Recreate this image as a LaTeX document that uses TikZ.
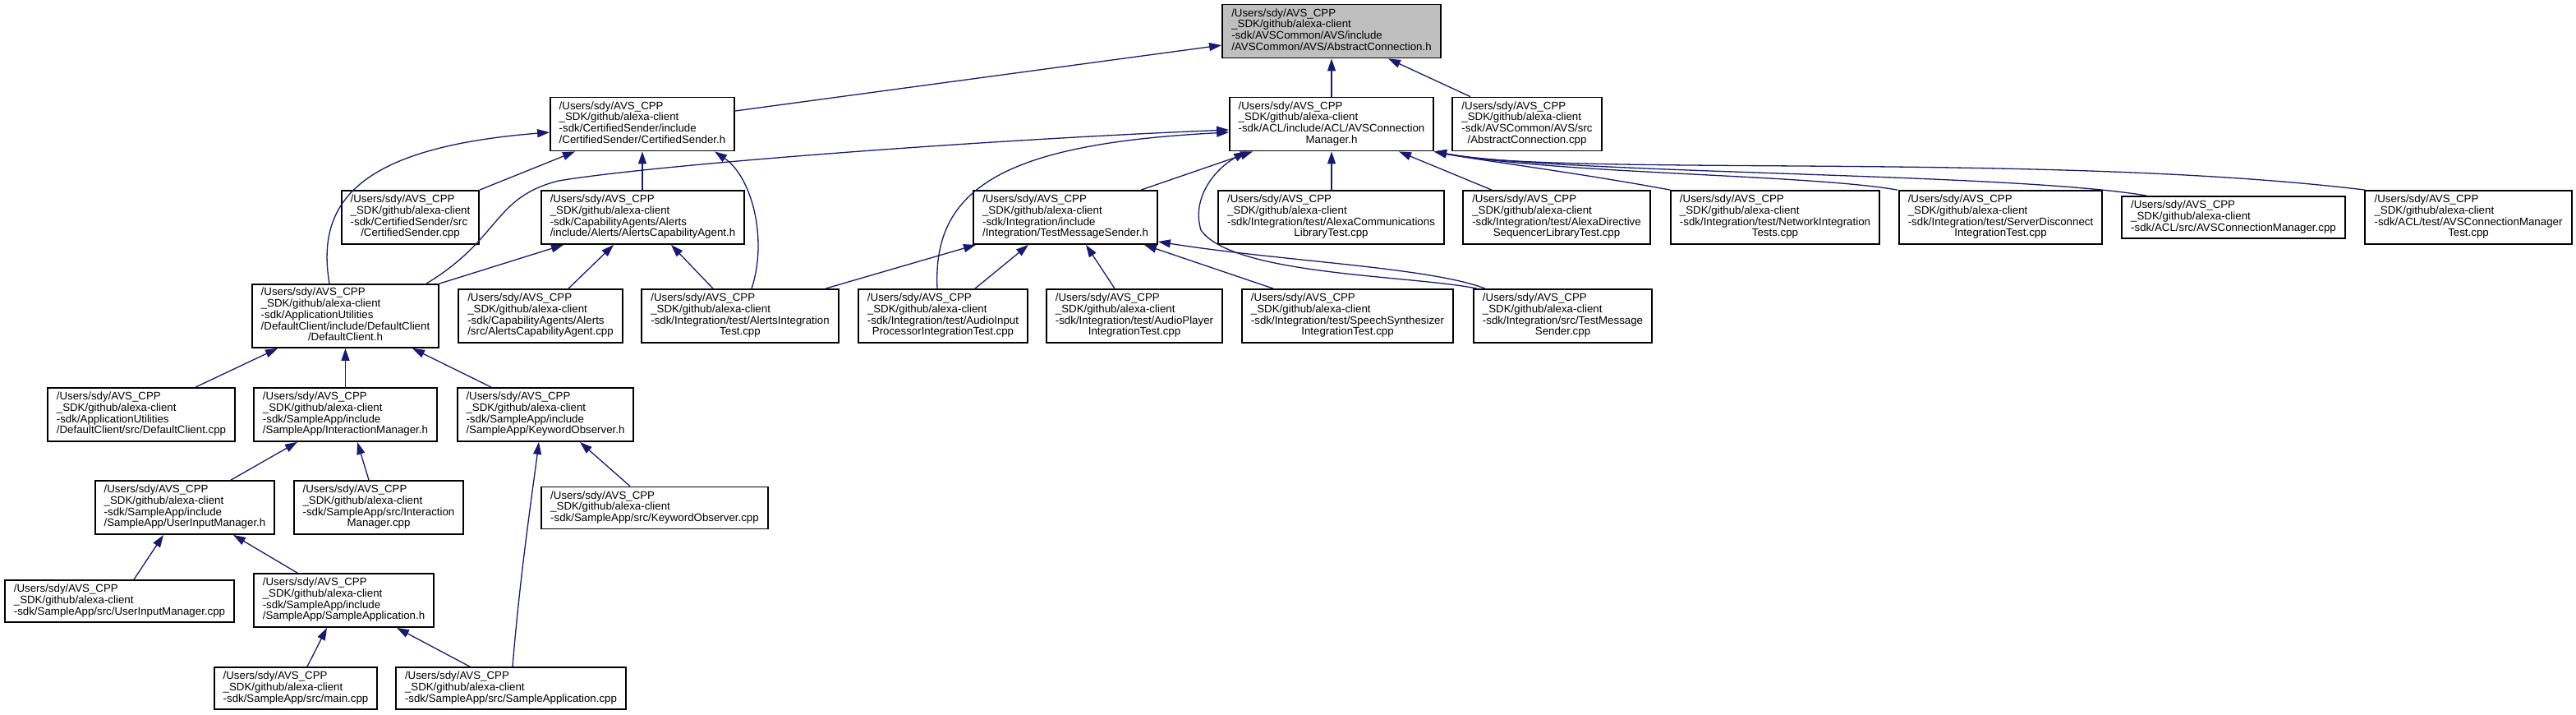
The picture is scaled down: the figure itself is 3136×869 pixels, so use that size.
\documentclass[tikz,border=0pt]{standalone}
\usepackage{fontspec}
\setmainfont{Liberation Sans}
\usetikzlibrary{arrows.meta}
\definecolor{edgeblue}{HTML}{191970}
\definecolor{rootgray}{HTML}{BFBFBF}
\newcommand\dlab[2]{\begin{tabular}{@{}l@{}}#1\\\multicolumn{1}{@{}c@{}}{#2}\end{tabular}}
\newcommand\pre{/Users/sdy/AVS\_CPP\\\_SDK/github/alexa-client}
\begin{document}
\begin{tikzpicture}[x=0.5pt,y=-0.5pt,
  fbox/.style={draw=black,line width=0.9pt,fill=white,inner xsep=4pt,inner ysep=1pt,
    font=\fontsize{6.65pt}{6.85pt}\selectfont,minimum height=32.5pt},
  rootbox/.style={fbox,fill=rootgray},
  three/.style={minimum height=25.5pt},
  five/.style={minimum height=38.5pt},
  edge/.style={draw=edgeblue,line width=0.65pt,-{Triangle[length=7.5pt,width=5pt]}}]
\useasboundingbox (0,0) rectangle (3136,869);
% rank 0
\node[rootbox,minimum width=133pt] (ACh) at (1621,38) {\dlab{\pre\\-sdk/AVSCommon/AVS/include}{/AVSCommon/AVS/AbstractConnection.h}};
% rank 1
\node[fbox,minimum width=112pt] (CSh) at (782,151) {\dlab{\pre\\-sdk/CertifiedSender/include}{/CertifiedSender/CertifiedSender.h}};
\node[fbox,minimum width=124pt] (ACMh) at (1621,151) {\dlab{\pre\\-sdk/ACL/include/ACL/AVSConnection}{Manager.h}};
\node[fbox,minimum width=91pt] (ACcpp) at (1859,151) {\dlab{\pre\\-sdk/AVSCommon/AVS/src}{/AbstractConnection.cpp}};
% rank 2
\node[fbox,minimum width=83.5pt] (CScpp) at (499.5,264.5) {\dlab{\pre\\-sdk/CertifiedSender/src}{/CertifiedSender.cpp}};
\node[fbox,minimum width=123.5pt] (ALh) at (782.5,264.5) {\dlab{\pre\\-sdk/CapabilityAgents/Alerts}{/include/Alerts/AlertsCapabilityAgent.h}};
\node[fbox,minimum width=112pt] (TMSh) at (1297,264.5) {\dlab{\pre\\-sdk/Integration/include}{/Integration/TestMessageSender.h}};
\node[fbox,minimum width=137.5pt] (AXC) at (1620.5,264.5) {\dlab{\pre\\-sdk/Integration/test/AlexaCommunications}{LibraryTest.cpp}};
\node[fbox,minimum width=114pt] (AXD) at (1895,264.5) {\dlab{\pre\\-sdk/Integration/test/AlexaDirective}{SequencerLibraryTest.cpp}};
\node[fbox,minimum width=127pt] (NET) at (2161,264.5) {\dlab{\pre\\-sdk/Integration/test/NetworkIntegration}{Tests.cpp}};
\node[fbox,minimum width=123.5pt] (SRV) at (2435.5,264.5) {\dlab{\pre\\-sdk/Integration/test/ServerDisconnect}{IntegrationTest.cpp}};
\node[fbox,three,minimum width=136pt] (ACMcpp) at (2719,264.5) {\dlab{\pre}{-sdk/ACL/src/AVSConnectionManager.cpp}};
\node[fbox,minimum width=126pt] (ACMt) at (3005,264.5) {\dlab{\pre\\-sdk/ACL/test/AVSConnectionManager}{Test.cpp}};
% rank 3
\node[fbox,five,minimum width=113.5pt] (DCh) at (420.5,384.5) {\dlab{\pre\\-sdk/ApplicationUtilities\\/DefaultClient/include/DefaultClient}{/DefaultClient.h}};
\node[fbox,minimum width=100pt] (ALcpp) at (658,384.5) {\dlab{\pre\\-sdk/CapabilityAgents/Alerts}{/src/AlertsCapabilityAgent.cpp}};
\node[fbox,minimum width=120pt] (ALT) at (901,384.5) {\dlab{\pre\\-sdk/Integration/test/AlertsIntegration}{Test.cpp}};
\node[fbox,minimum width=103pt] (AIP) at (1148,384.5) {\dlab{\pre\\-sdk/Integration/test/AudioInput}{ProcessorIntegrationTest.cpp}};
\node[fbox,minimum width=107pt] (APL) at (1381,384.5) {\dlab{\pre\\-sdk/Integration/test/AudioPlayer}{IntegrationTest.cpp}};
\node[fbox,minimum width=128.5pt] (SPS) at (1640.5,384.5) {\dlab{\pre\\-sdk/Integration/test/SpeechSynthesizer}{IntegrationTest.cpp}};
\node[fbox,minimum width=108.5pt] (TMScpp) at (1902.5,384.5) {\dlab{\pre\\-sdk/Integration/src/TestMessage}{Sender.cpp}};
% rank 4
\node[fbox,minimum width=114pt] (DCcpp) at (172,504.5) {\dlab{\pre\\-sdk/ApplicationUtilities}{/DefaultClient/src/DefaultClient.cpp}};
\node[fbox,minimum width=111.5pt] (IMh) at (420.5,504.5) {\dlab{\pre\\-sdk/SampleApp/include}{/SampleApp/InteractionManager.h}};
\node[fbox,minimum width=107pt] (KOh) at (664,504.5) {\dlab{\pre\\-sdk/SampleApp/include}{/SampleApp/KeywordObserver.h}};
% rank 5
\node[fbox,minimum width=109pt] (UIMh) at (225,617.5) {\dlab{\pre\\-sdk/SampleApp/include}{/SampleApp/UserInputManager.h}};
\node[fbox,minimum width=103pt] (IMcpp) at (461,617.5) {\dlab{\pre\\-sdk/SampleApp/src/Interaction}{Manager.cpp}};
\node[fbox,three,minimum width=138pt] (KOcpp) at (797,618) {\dlab{\pre}{-sdk/SampleApp/src/KeywordObserver.cpp}};
% rank 6
\node[fbox,three,minimum width=139.5pt] (UIMcpp) at (145.5,731.5) {\dlab{\pre}{-sdk/SampleApp/src/UserInputManager.cpp}};
\node[fbox,minimum width=109.5pt] (SAh) at (418.5,730.5) {\dlab{\pre\\-sdk/SampleApp/include}{/SampleApp/SampleApplication.h}};
% rank 7
\node[fbox,three,minimum width=99pt] (MAIN) at (360,837.5) {\dlab{\pre}{-sdk/SampleApp/src/main.cpp}};
\node[fbox,three,minimum width=140pt] (SAcpp) at (622,837.5) {\dlab{\pre}{-sdk/SampleApp/src/SampleApplication.cpp}};
% edges
\draw[edge] (CSh.east |- 0,135) -- (ACh.west |- 0,55);
\draw[edge] (ACMh.north) -- (ACh.south);
\draw[edge] (1790,0 |- ACcpp.north) -- (1690,0 |- ACh.south);
\draw[edge] (CScpp.north east) -- (700,0 |- CSh.south);
\draw[edge] (782,0 |- ALh.north) -- (782,0 |- CSh.south);
\draw[edge] (915,0 |- ALT.north) .. controls (935,290) and (915,215) .. (870,0 |- CSh.south);
\draw[edge] (401,0 |- DCh.north) .. controls (385,250) and (430,180) .. (CSh.west |- 0,161);
\draw[edge] (519,0 |- DCh.north) .. controls (610,290) and (600,240) .. (680,220) .. controls (800,200) and (1200,170) .. (ACMh.west |- 0,158);
\draw[edge] (DCh.north east) -- (686,0 |- ALh.south);
\draw[edge] (692,0 |- ALcpp.north) -- (747,0 |- ALh.south);
\draw[edge] (868,0 |- ALT.north) -- (817,0 |- ALh.south);
\draw[edge] (1389,0 |- TMSh.north) -- (1525,0 |- ACMh.south);
\draw[edge] (1141,0 |- AIP.north) .. controls (1135,230) and (1220,175) .. (ACMh.west |- 0,161);
\draw[edge] (1798,0 |- TMScpp.north) .. controls (1720,335) and (1500,335) .. (1462,280) .. controls (1450,240) and (1480,205) .. (1517,0 |- ACMh.south);
\draw[edge] (1621,0 |- AXC.north) -- (ACMh.south);
\draw[edge] (1816,0 |- AXD.north) -- (1703,0 |- ACMh.south);
\draw[edge] (NET.north west) .. controls (1920,210) and (1800,195) .. (ACMh.south east);
\draw[edge] (2310,0 |- SRV.north) .. controls (2200,212) and (1900,212) .. (ACMh.south east);
\draw[edge] (2613,0 |- ACMcpp.north) .. controls (2450,210) and (1900,212) .. (ACMh.south east);
\draw[edge] (2879,0 |- ACMt.north) .. controls (2500,185) and (1900,215) .. (ACMh.south east);
\draw[edge] (1005,0 |- ALT.north) -- (1188,0 |- TMSh.south);
\draw[edge] (1187,0 |- AIP.north) -- (1252,0 |- TMSh.south);
\draw[edge] (1357,0 |- APL.north) -- (1322,0 |- TMSh.south);
\draw[edge] (1550,0 |- SPS.north) -- (1393,0 |- TMSh.south);
\draw[edge] (1808,0 |- TMScpp.north) .. controls (1740,325) and (1560,318) .. (TMSh.east |- 0,294);
\draw[edge] (238,0 |- DCcpp.north) -- (338,0 |- DCh.south);
\draw[edge] (420.5,0 |- IMh.north) -- (420.5,0 |- DCh.south);
\draw[edge] (598,0 |- KOh.north) -- (502,0 |- DCh.south);
\draw[edge] (281,0 |- UIMh.north) -- (362,0 |- IMh.south);
\draw[edge] (449,0 |- IMcpp.north) -- (435,0 |- IMh.south);
\draw[edge] (767,0 |- KOcpp.north) -- (706,0 |- KOh.south);
\draw[edge] (624,0 |- SAcpp.north) .. controls (633,700) and (648,600) .. (656,0 |- KOh.south);
\draw[edge] (163,0 |- UIMcpp.north) -- (199,0 |- UIMh.south);
\draw[edge] (362,0 |- SAh.north) -- (284,0 |- UIMh.south);
\draw[edge] (374,0 |- MAIN.north) -- (398,0 |- SAh.south);
\draw[edge] (572,0 |- SAcpp.north) -- (483,0 |- SAh.south);
\end{tikzpicture}
\end{document}
